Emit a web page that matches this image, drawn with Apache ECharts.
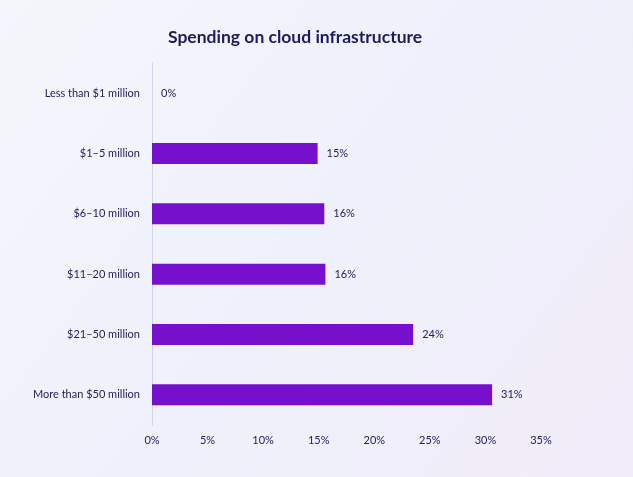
<!DOCTYPE html>
<html><head><meta charset="utf-8">
<script src="https://cdn.jsdelivr.net/npm/echarts@6/dist/echarts.min.js"></script>
<style>html,body{margin:0;padding:0;}#c{width:633px;height:477px;}</style>
</head><body><div id="c"></div>
<script>
const categories = ["Less than $1 million","$1–5 million","$6–10 million","$11–20 million","$21–50 million","More than $50 million"];
const values = [0, 14.9, 15.5, 15.6, 23.5, 30.6];
const valueLabels = ["0%","15%","16%","16%","24%","31%"];
const tickValues = [0,5,10,15,20,25,30,35];

const textColor = "#25215e";
const chart = echarts.init(document.getElementById('c'));
chart.setOption({
  backgroundColor: {type:'linear', x:0, y:0, x2:1, y2:1, colorStops:[
    {offset:0, color:'#f5f6fc'},{offset:0.5, color:'#eef1fb'},{offset:1, color:'#f2ecf9'}]},
  textStyle:{fontFamily:'Lato'},
  title:{text:'Spending on cloud infrastructure', left:163, top:23,
    textStyle:{color:'#1f1a5c', fontSize:17.5, fontWeight:'bold', fontFamily:'Lato'}},
  grid:{left:152, right:92, top:63, bottom:52, containLabel:false},
  xAxis:{type:'value', min:0, max:35, interval:5,
    axisLine:{show:false}, axisTick:{show:false}, splitLine:{show:false},
    axisLabel:{color:textColor, fontSize:11, margin:10, formatter:v=>v+'%'}},
  yAxis:{type:'category', data:categories, inverse:true,
    axisLine:{show:true, lineStyle:{color:'#d3d3ee', width:1}}, axisTick:{show:false},
    axisLabel:{color:textColor, fontSize:11, margin:12}},
  series:[{type:'bar', data:values, barWidth:21,
    itemStyle:{color:'#7610cc'},
    label:{show:true, position:'right', distance:9, color:textColor, fontSize:11,
      formatter:p=>valueLabels[p.dataIndex]}}]
});
</script></body></html>
